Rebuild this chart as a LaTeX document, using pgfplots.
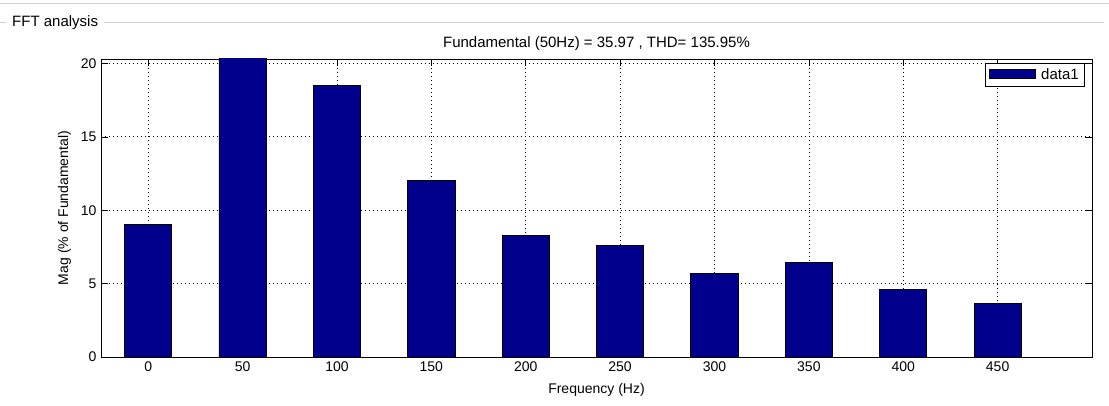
\documentclass[border=0pt]{standalone}
\usepackage{pgfplots}
\pgfplotsset{compat=1.18}
\usepackage{fontspec}
\setmainfont{Liberation Sans}
\definecolor{matnavy}{rgb}{0,0,0.55}
\definecolor{panelgray}{rgb}{0.82,0.82,0.82}

\pgfplotstableread{
freq mag
0    9.0
50   100
100  18.48
150  12.02
200  8.25
250  7.6
300  5.69
350  6.46
400  4.63
450  3.67
}\fftdata

\begin{document}
\begin{tikzpicture}
\fontsize{13}{15}\selectfont
\path[use as bounding box] (0pt,0pt) rectangle (1109pt,405pt);
% panel frame
\draw[panelgray, line width=0.8pt] (0pt,402pt) -- (1109pt,402pt);
\draw[panelgray, line width=0.8pt] (0pt,383pt) -- (6pt,383pt);
\draw[panelgray, line width=0.8pt] (104pt,383pt) -- (1104pt,383pt);
\node[anchor=west, inner sep=0pt, font=\fontsize{15}{17}\selectfont] at (12pt,382pt) {FFT analysis};

\begin{axis}[
    at={(101pt,48pt)}, anchor=south west,
    scale only axis,
    width=991pt, height=298pt,
    ybar, bar width=25,
    xmin=-25, xmax=500,
    ymin=0, ymax=20.3,
    xtick={0,50,...,450},
    ytick={0,5,...,20},
    tick align=inside,
    major tick length=7pt,
    xmajorgrids, ymajorgrids,
    grid style={black, line width=0.7pt, dash pattern=on 0.8pt off 3.2pt},
    axis line style={black, line width=0.7pt},
    tick style={black, line width=0.6pt},
    /pgf/number format/assume math mode=true,
    ticklabel style={font=\fontsize{14}{16}\selectfont},
    label style={font=\fontsize{14}{16}\selectfont},
    xlabel={Frequency (Hz)},
    ylabel={Mag (\% of Fundamental)},
    xlabel style={yshift=-3pt},
    ylabel style={yshift=1pt},
    title={Fundamental (50Hz) = 35.97 , THD= 135.95\%},
    title style={font=\fontsize{15}{17}\selectfont, yshift=-2pt},
    legend style={at={(1,1)}, anchor=north east, xshift=-7pt, yshift=-4pt,
        draw=black, line width=0.6pt, fill=white, inner xsep=4pt, inner ysep=3pt,
        font=\fontsize{15}{17}\selectfont,
        /tikz/every odd column/.append style={column sep=3pt}},
    legend image code/.code={\draw[fill=matnavy, draw=black, line width=0.8pt] (0pt,-4pt) rectangle (46pt,5pt);},
]
\addplot[fill=matnavy, draw=black, line width=0.8pt] table[x=freq, y=mag] {\fftdata};
\addlegendentry{data1}
\end{axis}
\end{tikzpicture}
\end{document}
